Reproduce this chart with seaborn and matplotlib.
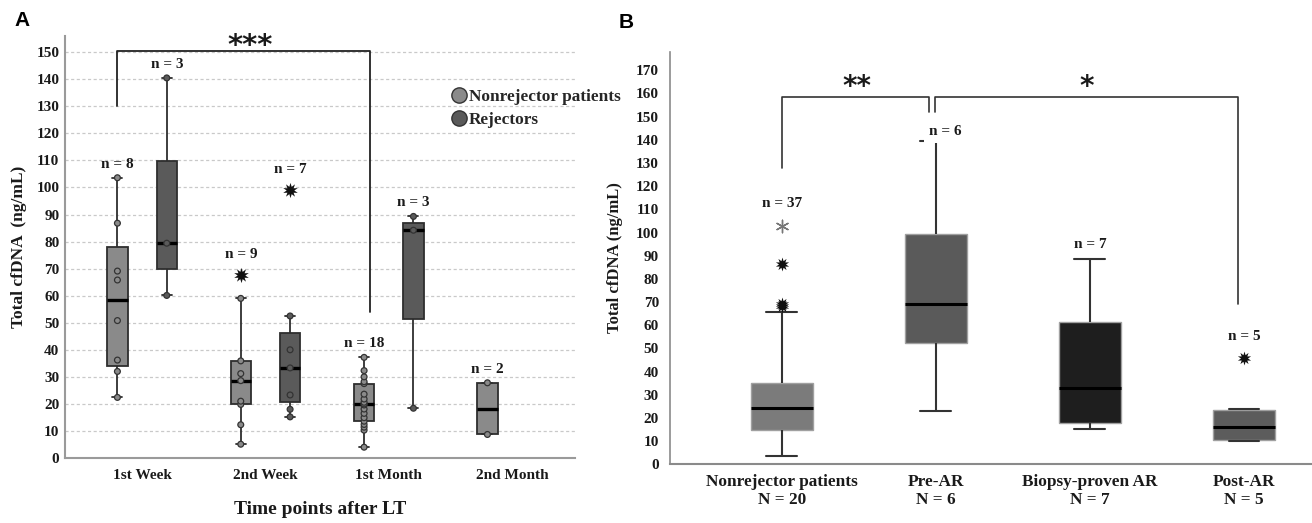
import numpy as np
import pandas as pd
import matplotlib
matplotlib.use("Agg")
import matplotlib.pyplot as plt
from matplotlib.lines import Line2D
import seaborn as sns

# ---------------- Panel A data (cfDNA, ng/mL) ----------------
time_points = ["1st Week", "2nd Week", "1st Month", "2nd Month"]
groups_a = ["Nonrejector patients", "Rejectors"]
nonrej_1st_week = [22.4, 32.0, 36.2, 50.8, 65.8, 69.1, 86.8, 103.6]
nonrej_2nd_week = [5.1, 12.3, 19.8, 21.0, 28.6, 31.2, 35.9, 59.0, 67.6]
nonrej_1st_month = [4.0, 10.3, 11.4, 12.4, 13.6, 14.9, 16.5, 18.1, 19.6,
                    20.0, 20.6, 21.8, 23.6, 27.5, 28.2, 30.0, 32.3, 37.2]
nonrej_2nd_month = [8.7, 27.8]
rej_1st_week = [60.1, 79.4, 140.5]
rej_2nd_week = [15.2, 18.0, 23.3, 33.3, 40.0, 52.5, 99.0]
rej_1st_month = [18.4, 84.2, 89.3]
colors_a = ["#8a8a8a", "#5a5a5a"]

# ---------------- Panel B data (box summaries) ----------------
groups_b = ["Nonrejector patients", "Pre-AR", "Biopsy-proven AR", "Post-AR"]
group_sizes_b = [20, 6, 7, 5]
sample_counts_b = [37, 6, 7, 5]
whisker_low_b = [3.7, 23.1, 15.2, 10.0]
q1_b = [14.6, 52.2, 17.9, 10.6]
median_b = [24.1, 69.1, 32.9, 16.0]
q3_b = [35.2, 99.2, 61.5, 23.4]
whisker_high_b = [65.5, 139.5, 88.7, 24.0]
extreme_groups_b = ["Nonrejector patients", "Nonrejector patients",
                    "Nonrejector patients", "Post-AR"]
extreme_values_b = [68.2, 69.2, 86.2, 45.7]
outlier_groups_b = ["Nonrejector patients"]
outlier_values_b = [102.9]
colors_b = ["#7b7b7b", "#5a5a5a", "#1e1e1e", "#5c5c5c"]

# ---------------- style ----------------
sns.set_style("white")
plt.rcParams["font.family"] = ["Liberation Serif", "DejaVu Serif"]
plt.rcParams["font.weight"] = "bold"
TXT = "#1a1a1a"


def tukey(vals):
    v = np.sort(np.asarray(vals, float))
    n = len(v)
    h = (n + 1) // 2
    q1, q3, med = np.median(v[:h]), np.median(v[n - h:]), np.median(v)
    iqr = q3 - q1
    ok = (v >= q1 - 1.5 * iqr) & (v <= q3 + 1.5 * iqr)
    inside, out = v[ok], v[~ok]
    return [inside.min(), q1, med, q3, inside.max()], inside, out


series_a = {
    ("1st Week", groups_a[0]): nonrej_1st_week,
    ("1st Week", groups_a[1]): rej_1st_week,
    ("2nd Week", groups_a[0]): nonrej_2nd_week,
    ("2nd Week", groups_a[1]): rej_2nd_week,
    ("1st Month", groups_a[0]): nonrej_1st_month,
    ("1st Month", groups_a[1]): rej_1st_month,
    ("2nd Month", groups_a[0]): nonrej_2nd_month,
}
box_rows, pt_rows, out_rows = [], [], []
for (t, g), vals in series_a.items():
    st, ins, out = tukey(vals)
    box_rows += [(t, g, s) for s in st]
    pt_rows += [(t, g, x) for x in ins]
    out_rows += [(t, g, x) for x in out]
box_a = pd.DataFrame(box_rows, columns=["time", "group", "value"])
pts_a = pd.DataFrame(pt_rows, columns=["time", "group", "value"])
out_a = pd.DataFrame(out_rows, columns=["time", "group", "value"])

fig = plt.figure(figsize=(13.12, 5.23), dpi=100)
W, H = 1312, 523
axA = fig.add_axes([65 / W, 1 - 458 / H, 510 / W, 422 / H])
axB = fig.add_axes([670 / W, 1 - 464.3 / H, 641 / W, 412.6 / H])

# ---------------- Panel A ----------------
sns.boxplot(data=box_a, x="time", y="value", hue="group", order=time_points,
            hue_order=groups_a, palette=colors_a, saturation=1, width=0.8,
            gap=0.59, whis=np.inf, linewidth=1.3, linecolor="#2e2e2e",
            medianprops=dict(color="black", linewidth=2.4), legend=False, ax=axA)
sns.stripplot(data=pts_a, x="time", y="value", hue="group", order=time_points,
              hue_order=groups_a, palette=colors_a, dodge=True, jitter=False,
              size=4.2, linewidth=0.9, edgecolor="#333333", legend=False, ax=axA)
sns.stripplot(data=out_a, x="time", y="value", hue="group", order=time_points,
              hue_order=groups_a, palette=["#111111", "#111111"], dodge=True,
              jitter=False, marker=(10, 1, 0), size=11, linewidth=0,
              legend=False, ax=axA)

for (t, g), vals in series_a.items():
    st, ins, out = tukey(vals)
    x = time_points.index(t) + (-0.2 if g == groups_a[0] else 0.2)
    y = max(vals) + (7.5 if len(out) else 5.0)
    axA.text(x, y, f"n = {len(vals)}", ha="center", va="center",
             fontsize=11, fontweight="bold", color=TXT)

axA.set_xlim(-0.625, 3.51)
axA.set_ylim(0, 156)
axA.set_yticks(range(0, 151, 10))
axA.yaxis.grid(True, linestyle=(0, (2.5, 2)), color="#c9c9c9", linewidth=0.9)
axA.xaxis.grid(False)
axA.set_axisbelow(True)
for s in ["top", "right"]:
    axA.spines[s].set_visible(False)
for s in ["left", "bottom"]:
    axA.spines[s].set_color("#9a9a9a")
    axA.spines[s].set_linewidth(1.5)
axA.tick_params(axis="y", length=0, pad=4, labelsize=11, labelcolor=TXT)
axA.tick_params(axis="x", length=0, pad=8, labelsize=11, labelcolor=TXT)
axA.set_xlabel("")
axA.set_ylabel("Total cfDNA  (ng/mL)", fontsize=12.5, fontweight="bold",
               color=TXT, labelpad=7)
fig.text(320 / W, 1 - 510 / H, "Time points after LT", ha="center", va="center",
         fontsize=14, fontweight="bold", color=TXT)

# significance bracket A
xl, xr = 0 - 0.2, 2 - 0.15
axA.plot([xl, xl, xr, xr], [130, 150.5, 150.5, 54], color="#222222", lw=1.3,
         clip_on=False)
axA.text(0.88, 152.3, "***", ha="center", va="center", fontsize=21,
         fontweight="bold", family="DejaVu Sans", color=TXT, clip_on=False)

# legend A
handles = [Line2D([], [], marker="o", ls="", markersize=11, markerfacecolor=c,
                  markeredgecolor="#333333", markeredgewidth=1.0) for c in colors_a]
fig.legend(handles, groups_a, loc="upper left",
           bbox_to_anchor=(444 / W, 1 - 80 / H), frameon=False,
           handlelength=0.75, handletextpad=0.2, labelspacing=0.42,
           borderpad=0, prop=dict(family="Liberation Serif", weight="bold", size=12.4))

# ---------------- Panel B ----------------
box_b = pd.DataFrame({
    "group": np.repeat(groups_b, 5),
    "value": np.column_stack([whisker_low_b, q1_b, median_b, q3_b,
                              whisker_high_b]).ravel(),
})
sns.boxplot(data=box_b, x="group", y="value", hue="group", order=groups_b,
            hue_order=groups_b, palette=colors_b, saturation=1, width=0.4,
            whis=np.inf, linewidth=1.5, linecolor="#333333",
            medianprops=dict(color="black", linewidth=2.2), legend=False, ax=axB)
for p in axB.patches:
    p.set_edgecolor("#a0a0a0")
    p.set_linewidth(1.0)

ext_b = pd.DataFrame({"group": extreme_groups_b, "value": extreme_values_b})
sns.stripplot(data=ext_b, x="group", y="value", order=groups_b, color="#111111",
              jitter=False, marker=(10, 1, 0), size=10, linewidth=0, ax=axB)
outl_b = pd.DataFrame({"group": outlier_groups_b, "value": outlier_values_b})
sns.stripplot(data=outl_b, x="group", y="value", order=groups_b, color="#777777",
              jitter=False, marker=(6, 2, 0), size=9, linewidth=1.0, ax=axB)

all_b = {g: [whisker_high_b[i]] for i, g in enumerate(groups_b)}
for g, v in zip(extreme_groups_b + outlier_groups_b, extreme_values_b + outlier_values_b):
    all_b[g].append(v)
for i, g in enumerate(groups_b):
    has_out = len(all_b[g]) > 1
    y = max(all_b[g]) + (9.5 if has_out else 6.3)
    kw = {}
    dx = 0
    if g == "Pre-AR":
        kw = dict(bbox=dict(facecolor="white", edgecolor="none", pad=3.5))
        dx = 0.06
        y = max(all_b[g]) + 4.0
    axB.text(i + dx, y, f"n = {sample_counts_b[i]}", ha="center", va="center",
             fontsize=11, fontweight="bold", color=TXT, zorder=5, **kw)

axB.set_xlim(-0.725, 3.435)
axB.set_ylim(0, 178)
axB.set_yticks(range(0, 171, 10))
axB.set_xticks(range(len(groups_b)))
axB.set_xticklabels([f"{g}\nN = {n}" for g, n in zip(groups_b, group_sizes_b)],
                    fontsize=12.4, fontweight="bold", color=TXT, linespacing=1.2)
for s in ["top", "right"]:
    axB.spines[s].set_visible(False)
axB.spines["left"].set_color("#8a8a8a")
axB.spines["left"].set_linewidth(1.2)
axB.spines["bottom"].set_color("#8a8a8a")
axB.spines["bottom"].set_linewidth(1.5)
axB.tick_params(axis="y", length=5, width=1, color="#8a8a8a", pad=3,
                labelsize=11, labelcolor=TXT)
axB.tick_params(axis="x", length=0, pad=7)
axB.set_xlabel("")
axB.set_ylabel("Total cfDNA (ng/mL)", fontsize=12, fontweight="bold", color=TXT,
               labelpad=9)
axB.grid(False)

# significance brackets B
axB.plot([0, 0, 0.956, 0.956], [128, 158.3, 158.3, 152], color="#333333",
         lw=1.2, clip_on=False)
axB.plot([0.995, 0.995, 2.96, 2.96], [152, 158.3, 158.3, 69.1], color="#333333",
         lw=1.2, clip_on=False)
axB.text(0.486, 162.6, "**", ha="center", va="center", fontsize=20,
         fontweight="bold", family="DejaVu Sans", color=TXT)
axB.text(1.98, 162.6, "*", ha="center", va="center", fontsize=20,
         fontweight="bold", family="DejaVu Sans", color=TXT)

# panel letters
fig.text(22 / W, 1 - 21 / H, "A", ha="center", va="center", fontsize=15,
         fontweight="bold", family="Liberation Sans", color="black")
fig.text(626 / W, 1 - 22 / H, "B", ha="center", va="center", fontsize=15,
         fontweight="bold", family="Liberation Sans", color="black")

fig.savefig("out.png", dpi=100)
